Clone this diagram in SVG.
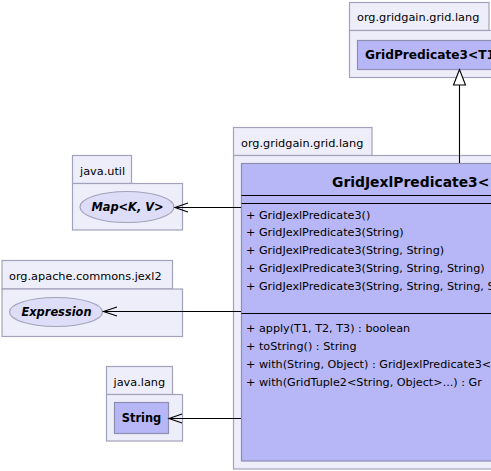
<svg xmlns="http://www.w3.org/2000/svg" width="491" height="471" viewBox="0 0 491 471">
<style>
.pkg{fill:#EEEEFB;stroke:#A2A2BA;stroke-width:1.2}
.cls{fill:#B7B7F7;stroke:#8E8EB2;stroke-width:1.2}
.ell{fill:#DDDDF8;stroke:#A2A2BA;stroke-width:1.2}
.sep{stroke:#000;stroke-width:1.2}
text{font-family:"DejaVu Sans","Liberation Sans",sans-serif;fill:#000}
.lbl{font-size:11.3px}
.m{font-size:11.2px}
.b{font-size:11.4px;font-weight:bold}
.bi{font-size:11.4px;font-weight:bold;font-style:italic}
.con{stroke:#000;stroke-width:1.1;fill:none}
</style>
<g id="pkg-top">
<rect class="pkg" x="349.5" y="2.5" width="139.5" height="28"/>
<rect class="pkg" x="349.5" y="30.5" width="150" height="47"/>
<text class="lbl" x="357" y="21">org.gridgain.grid.lang</text>
</g>
<g id="GridPredicate3">
<rect class="cls" x="357.5" y="40.5" width="150" height="29"/>
<text class="b" x="365" y="59" style="font-size:12.2px">GridPredicate3&lt;T1</text>
</g>
<g id="pkg-main">
<rect class="pkg" x="233.5" y="127.5" width="138.5" height="28"/>
<rect class="pkg" x="233.5" y="155.5" width="270" height="313.5"/>
<text class="lbl" x="241" y="147">org.gridgain.grid.lang</text>
</g>
<g id="GridJexlPredicate3">
<rect class="cls" x="241.5" y="163.5" width="260" height="297.5"/>
<text class="b" x="332" y="187" style="font-size:13.9px">GridJexlPredicate3&lt;</text>
<line class="sep" x1="241.5" y1="195.5" x2="501" y2="195.5"/>
<line class="sep" x1="241.5" y1="203.5" x2="501" y2="203.5"/>
<text class="m" x="246" y="218.5">+ GridJexlPredicate3()</text>
<text class="m" x="246" y="236.4">+ GridJexlPredicate3(String)</text>
<text class="m" x="246" y="254.3">+ GridJexlPredicate3(String, String)</text>
<text class="m" x="246" y="272.2">+ GridJexlPredicate3(String, String, String)</text>
<text class="m" x="246" y="290.1">+ GridJexlPredicate3(String, String, String, S</text>
<line class="sep" x1="241.5" y1="313.5" x2="501" y2="313.5"/>
<text class="m" x="246" y="331.5">+ apply(T1, T2, T3) : boolean</text>
<text class="m" x="246" y="349.5">+ toString() : String</text>
<text class="m" x="246" y="367.5">+ with(String, Object) : GridJexlPredicate3&lt;</text>
<text class="m" x="246" y="385.5">+ with(GridTuple2&lt;String, Object&gt;...) : Gr</text>
</g>
<g id="pkg-java-util">
<rect class="pkg" x="72.5" y="155.5" width="59" height="28"/>
<rect class="pkg" x="72.5" y="183.5" width="110" height="46.5"/>
<text class="lbl" x="80" y="175">java.util</text>
</g>
<g id="Map">
<ellipse class="ell" cx="127" cy="207" rx="47" ry="15.5"/>
<text class="bi" x="127.5" y="211" text-anchor="middle">Map&lt;K, V&gt;</text>
</g>
<g id="pkg-jexl2">
<rect class="pkg" x="2" y="260.5" width="170.5" height="28.5"/>
<rect class="pkg" x="2" y="289" width="180.5" height="47.5"/>
<text class="lbl" x="9" y="280">org.apache.commons.jexl2</text>
</g>
<g id="Expression">
<ellipse class="ell" cx="56" cy="312" rx="46.5" ry="14.5"/>
<text class="bi" x="56.5" y="316" text-anchor="middle">Expression</text>
</g>
<g id="pkg-java-lang">
<rect class="pkg" x="106.5" y="366.5" width="66" height="28"/>
<rect class="pkg" x="106.5" y="394.5" width="76" height="46.5"/>
<text class="lbl" x="113.5" y="385.5">java.lang</text>
</g>
<g id="String">
<rect class="cls" x="114.5" y="402.5" width="54" height="31"/>
<text class="b" x="141.5" y="422" text-anchor="middle">String</text>
</g>
<g id="connectors">
<line class="con" x1="459.5" y1="163" x2="459.5" y2="85"/>
<polygon points="459.5,69.5 453.5,85 465.5,85" fill="#fff" stroke="#000" stroke-width="1.1"/>
<line class="con" x1="241" y1="207.5" x2="175" y2="207.5"/>
<path class="con" d="M188,203 L175,207.5 L188,212"/>
<line class="con" x1="241" y1="311.5" x2="103.5" y2="311.5"/>
<path class="con" d="M117,307 L103.5,311.5 L117,316"/>
<line class="con" x1="241" y1="418.5" x2="169" y2="418.5"/>
<path class="con" d="M182,414 L169,418.5 L182,423"/>
</g>
</svg>
